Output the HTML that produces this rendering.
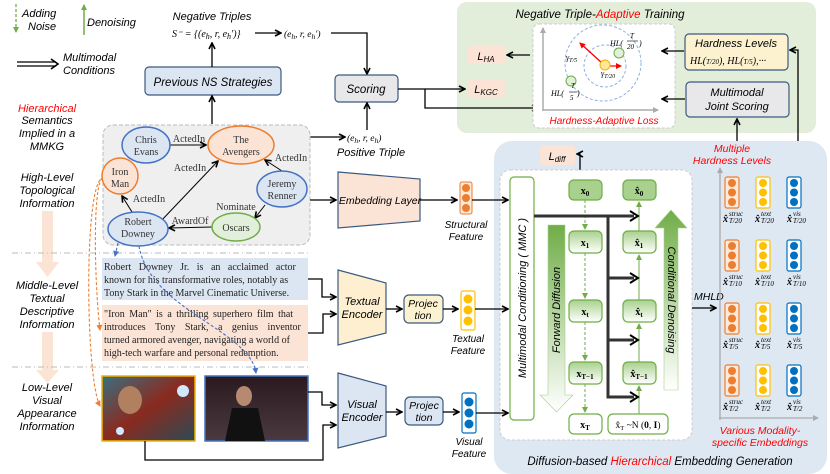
<!DOCTYPE html>
<html><head><meta charset="utf-8"><style>
body{margin:0;background:#fff}
svg{display:block}
.h{font-family:"Liberation Sans",sans-serif;font-style:italic}
.s{font-family:"Liberation Serif",serif}
</style></head><body>
<svg width="830" height="474" viewBox="0 0 830 474" xmlns="http://www.w3.org/2000/svg">
<defs>
<marker id="a" markerWidth="8" markerHeight="8" refX="7" refY="4" orient="auto" markerUnits="userSpaceOnUse"><path d="M1,1 L7,4 L1,7" fill="none" stroke="#000" stroke-width="1.6"/></marker>
<marker id="ab" markerWidth="8" markerHeight="8" refX="6" refY="4" orient="auto" markerUnits="userSpaceOnUse"><path d="M1,1 L7,4 L1,7 z" fill="#4472c4"/></marker>
<marker id="ao" markerWidth="8" markerHeight="8" refX="6" refY="4" orient="auto" markerUnits="userSpaceOnUse"><path d="M1,1 L7,4 L1,7 z" fill="#ed7d31"/></marker>
<marker id="ag" markerWidth="8" markerHeight="8" refX="6" refY="4" orient="auto" markerUnits="userSpaceOnUse"><path d="M1,1 L7,4 L1,7 z" fill="#70ad47"/></marker>
<marker id="ar" markerWidth="8" markerHeight="8" refX="6" refY="4" orient="auto" markerUnits="userSpaceOnUse"><path d="M1,1 L7,4 L1,7 z" fill="#f00"/></marker>
<marker id="ax" markerWidth="8" markerHeight="8" refX="6" refY="4" orient="auto" markerUnits="userSpaceOnUse"><path d="M1,1 L7,4 L1,7 z" fill="#aaa"/></marker>
<linearGradient id="gd" x1="0" y1="0" x2="0" y2="1"><stop offset="0" stop-color="#70ad47"/><stop offset="1" stop-color="#fff"/></linearGradient>
<linearGradient id="gu" x1="0" y1="1" x2="0" y2="0"><stop offset="0" stop-color="#fff"/><stop offset="1" stop-color="#70ad47"/></linearGradient>
<linearGradient id="gb" x1="0" y1="0" x2="0" y2="1"><stop offset="0" stop-color="#a9d18e"/><stop offset="1" stop-color="#fff"/></linearGradient>
<linearGradient id="im1" x1="0" y1="0" x2="1" y2="1"><stop offset="0" stop-color="#3a6f80"/><stop offset=".5" stop-color="#8a2a1e"/><stop offset="1" stop-color="#2b4a55"/></linearGradient>
<linearGradient id="im2" x1="0" y1="0" x2="0" y2="1"><stop offset="0" stop-color="#2a1a20"/><stop offset="1" stop-color="#4a3a40"/></linearGradient>
</defs>

<!-- legend -->
<line x1="16" y1="4" x2="16" y2="32" stroke="#70ad47" stroke-width="1.3" stroke-dasharray="3,2" marker-end="url(#ag)"/>
<text x="22" y="17" class="h" font-size="11">Adding</text><text x="28" y="30" class="h" font-size="11">Noise</text>
<line x1="84" y1="35" x2="84" y2="5" stroke="#70ad47" stroke-width="1.5" marker-end="url(#ag)"/>
<text x="87" y="26" class="h" font-size="11">Denoising</text>
<line x1="17" y1="62" x2="56" y2="62" stroke="#000" stroke-width="1.3"/><line x1="17" y1="66" x2="56" y2="66" stroke="#000" stroke-width="1.3"/>
<path d="M51,59 L58,64 L51,69" fill="none" stroke="#000" stroke-width="1.6"/>
<text x="63" y="61" class="h" font-size="11">Multimodal</text><text x="63" y="74" class="h" font-size="11">Conditions</text>

<g class="h" font-size="11" text-anchor="middle">
<text x="47" y="112" fill="#f00">Hierarchical</text>
<text x="47" y="124">Semantics</text><text x="47" y="137">Implied in a</text><text x="47" y="150">MMKG</text>
<text x="47" y="181">High-Level</text><text x="47" y="194">Topological</text><text x="47" y="207">Information</text>
<text x="47" y="289">Middle-Level</text><text x="47" y="302">Textual</text><text x="47" y="315">Descriptive</text><text x="47" y="328">Information</text>
<text x="47" y="391">Low-Level</text><text x="47" y="404">Visual</text><text x="47" y="417">Appearance</text><text x="47" y="430">Information</text>
</g>
<path d="M42,211 H53 V262 H59 L47.5,277 L36,262 H42 Z" fill="#fbe3d6"/>
<path d="M42,332 H53 V370 H59 L47.5,383 L36,370 H42 Z" fill="#fbe3d6"/>
<line x1="12" y1="253" x2="308" y2="253" stroke="#bbb" stroke-dasharray="6,3,1,3"/>
<line x1="12" y1="367" x2="308" y2="367" stroke="#bbb" stroke-dasharray="6,3,1,3"/>

<!-- top triples -->
<text x="212" y="20" class="h" font-size="11" text-anchor="middle">Negative Triples</text>
<text x="172" y="37" class="s" font-size="10" font-style="italic">S⁻ = {(e<tspan font-size="8" dy="2">h</tspan><tspan dy="-2">, r, e</tspan><tspan font-size="8" dy="2">h</tspan><tspan dy="-2">′)}</tspan></text>
<line x1="255" y1="33" x2="281" y2="33" stroke="#000" stroke-width="1.3" marker-end="url(#a)"/>
<text x="284" y="37" class="s" font-size="9.5" font-style="italic">(e<tspan font-size="7.5" dy="2">h</tspan><tspan dy="-2">, r, e</tspan><tspan font-size="7.5" dy="2">h</tspan><tspan dy="-2">′)</tspan></text>
<path d="M331,33 H367 V74" fill="none" stroke="#000" stroke-width="1.3" marker-end="url(#a)"/>
<rect x="145" y="67" width="136" height="28" rx="4" fill="#dce6f2" stroke="#3b5a80" stroke-width="1.2"/>
<text x="213" y="86" class="h" font-size="11.5" text-anchor="middle">Previous NS Strategies</text>
<line x1="212" y1="67" x2="212" y2="43" stroke="#000" stroke-width="1.3" marker-end="url(#a)"/>
<line x1="212" y1="124" x2="212" y2="96" stroke="#000" stroke-width="1.3" marker-end="url(#a)"/>
<rect x="335" y="75" width="63" height="27" rx="4" fill="#e8e8ea" stroke="#3b5a80" stroke-width="1.2"/>
<text x="366" y="93" class="h" font-size="11.5" text-anchor="middle">Scoring</text>
<line x1="367" y1="130" x2="367" y2="103" stroke="#000" stroke-width="1.3" marker-end="url(#a)"/>
<line x1="310" y1="137" x2="345" y2="137" stroke="#000" stroke-width="1.3" marker-end="url(#a)"/>
<text x="347" y="141" class="s" font-size="9.5" font-style="italic">(e<tspan font-size="7.5" dy="2">h</tspan><tspan dy="-2">, r, e</tspan><tspan font-size="7.5" dy="2">h</tspan><tspan dy="-2">)</tspan></text>
<text x="371" y="156" class="h" font-size="11" text-anchor="middle">Positive Triple</text>

<!-- green region -->
<rect x="457" y="2" width="359" height="131" rx="10" fill="#e2eed9"/>
<text x="600" y="18" class="h" font-size="11.5" text-anchor="middle">Negative Triple-<tspan fill="#f00">Adaptive</tspan> Training</text>
<path d="M398,89 H465" fill="none" stroke="#000" stroke-width="1.3" marker-end="url(#a)"/>
<path d="M425,89 V108 H538" fill="none" stroke="#000" stroke-width="1.3" marker-end="url(#a)"/>
<rect x="468" y="46" width="37" height="18" rx="2" fill="#fbe3d6"/>
<text x="486" y="60" class="h" font-size="11" text-anchor="middle">L<tspan font-size="8" dy="2">HA</tspan></text>
<rect x="468" y="79" width="37" height="18" rx="2" fill="#fbe3d6"/>
<text x="486" y="93" class="h" font-size="11" text-anchor="middle">L<tspan font-size="8" dy="2">KGC</tspan></text>
<line x1="530" y1="55" x2="507" y2="55" stroke="#000" stroke-width="1.3" marker-end="url(#a)"/>
<rect x="533" y="24" width="142" height="104" rx="6" fill="#fff" stroke="#ccc" stroke-dasharray="3,2"/>
<line x1="543" y1="111" x2="543" y2="28" stroke="#aaa" stroke-width="1.5" marker-end="url(#ax)"/>
<line x1="543" y1="110" x2="658" y2="110" stroke="#aaa" stroke-width="1.5" marker-end="url(#ax)"/>
<circle cx="603" cy="63" r="38" fill="none" stroke="#8fb0e0" stroke-dasharray="3,2"/>
<circle cx="605" cy="66" r="21" fill="none" stroke="#8fb0e0" stroke-dasharray="3,2"/>
<line x1="602" y1="63" x2="580" y2="43" stroke="#f00" stroke-width="1.3" marker-end="url(#ar)"/>
<line x1="604" y1="66" x2="621" y2="66" stroke="#f00" stroke-width="1.3" marker-end="url(#ar)"/>
<circle cx="605" cy="65" r="5" fill="#ffe699" stroke="#f0b400"/>
<circle cx="619" cy="53" r="5" fill="#e2efda" stroke="#70ad47"/>
<circle cx="571" cy="81" r="5" fill="#e2efda" stroke="#70ad47"/>
<g class="s" font-size="8" font-style="italic">
<text x="610" y="46">HL(</text><text x="630" y="38" font-size="7">T</text><line x1="627" y1="41" x2="638" y2="41" stroke="#000" stroke-width=".6"/><text x="627" y="49" font-size="7">20</text><text x="639" y="46">)</text>
<text x="566" y="60">γ<tspan font-size="6" dy="2">T/5</tspan></text>
<text x="601" y="76">γ<tspan font-size="6" dy="2">T/20</tspan></text>
<text x="551" y="96">HL(</text><text x="571" y="88" font-size="7">T</text><line x1="569" y1="92" x2="577" y2="92" stroke="#000" stroke-width=".6"/><text x="570" y="100" font-size="7">5</text><text x="577" y="96">)</text>
</g>
<text x="604" y="124" class="h" font-size="10" fill="#f00" text-anchor="middle">Hardness-Adaptive Loss</text>
<rect x="685" y="34" width="103" height="36" rx="4" fill="#fdf2d0" stroke="#3b5a80" stroke-width="1.2"/>
<text x="736" y="47" class="h" font-size="11" text-anchor="middle">Hardness Levels</text>
<text x="690" y="64" class="s" font-size="10" font-style="italic">HL(<tspan font-size="7">T/20</tspan>), HL(<tspan font-size="7">T/5</tspan>),···</text>
<rect x="686" y="82" width="103" height="35" rx="4" fill="#e8e8ea" stroke="#3b5a80" stroke-width="1.2"/>
<text x="737" y="96" class="h" font-size="11" text-anchor="middle">Multimodal</text>
<text x="737" y="110" class="h" font-size="11" text-anchor="middle">Joint Scoring</text>
<line x1="684" y1="51" x2="662" y2="51" stroke="#000" stroke-width="1.3" marker-end="url(#a)"/>
<line x1="685" y1="99" x2="662" y2="99" stroke="#000" stroke-width="1.3" marker-end="url(#a)"/>

<!-- blue region -->
<rect x="494" y="141" width="333" height="333" rx="18" fill="#dee8f3"/>
<line x1="737" y1="141" x2="737" y2="119" stroke="#000" stroke-width="1.3" marker-end="url(#a)"/>
<path d="M798,141 V50 H790" fill="none" stroke="#000" stroke-width="1.3" marker-end="url(#a)"/>
<rect x="540" y="145" width="35" height="20" rx="2" fill="#fbe3d6"/>
<text x="557" y="160" class="h" font-size="11" text-anchor="middle">L<tspan font-size="8" dy="2">diff</tspan></text>
<path d="M580,170 V154 H577" fill="none" stroke="#000" stroke-width="1.3" marker-end="url(#a)"/>
<text x="732" y="152" class="h" font-size="10.5" fill="#f00" text-anchor="middle">Multiple</text>
<text x="732" y="164" class="h" font-size="10.5" fill="#f00" text-anchor="middle">Hardness Levels</text>
<rect x="500" y="170" width="192" height="270" rx="10" fill="#fff" stroke="#ccc" stroke-dasharray="3,2"/>
<rect x="510" y="177" width="24" height="243" rx="4" fill="#fff" stroke="#70ad47" stroke-width="1.2"/>
<text transform="translate(526,298) rotate(-90)" class="h" font-size="11" text-anchor="middle">Multimodal Conditioning ( MMC )</text>
<path d="M548,225 H565 V395 H573 L556.5,412 L540,395 H548 Z" fill="url(#gd)" stroke="#a9d18e" stroke-width=".6"/>
<text transform="translate(560,310) rotate(-90)" class="h" font-size="11" text-anchor="middle">Forward Diffusion</text>
<path d="M664,390 H678 V228 H687 L671,210 L655,228 H664 Z" fill="url(#gu)" stroke="#a9d18e" stroke-width=".6"/>
<text transform="translate(668,300) rotate(90)" class="h" font-size="11" text-anchor="middle">Conditional Denoising</text>
<g stroke="#70ad47" stroke-width="1.2">
<rect x="569" y="180" width="33" height="20" rx="5" fill="#a9d18e"/>
<rect x="623" y="180" width="33" height="20" rx="5" fill="#a9d18e"/>
<rect x="569" y="231" width="33" height="22" rx="5" fill="url(#gb)"/>
<rect x="623" y="231" width="33" height="22" rx="5" fill="url(#gb)"/>
<rect x="569" y="300" width="33" height="22" rx="5" fill="url(#gb)"/>
<rect x="623" y="300" width="33" height="22" rx="5" fill="url(#gb)"/>
<rect x="569" y="362" width="33" height="22" rx="5" fill="url(#gb)"/>
<rect x="623" y="362" width="33" height="22" rx="5" fill="url(#gb)"/>
<rect x="569" y="414" width="33" height="20" rx="5" fill="#fff"/>
<rect x="608" y="414" width="60" height="20" rx="5" fill="#fff"/>
</g>
<g class="s" font-size="10" font-weight="bold" text-anchor="middle">
<text x="585" y="194">x<tspan font-size="7" dy="2">0</tspan></text><text x="639" y="194">x̂<tspan font-size="7" dy="2">0</tspan></text>
<text x="585" y="246">x<tspan font-size="7" dy="2">1</tspan></text><text x="639" y="246">x̂<tspan font-size="7" dy="2">1</tspan></text>
<text x="585" y="315">x<tspan font-size="7" dy="2">t</tspan></text><text x="639" y="315">x̂<tspan font-size="7" dy="2">t</tspan></text>
<text x="585" y="377">x<tspan font-size="7" dy="2">T−1</tspan></text><text x="639" y="377">x̂<tspan font-size="7" dy="2">T−1</tspan></text>
<text x="585" y="428">x<tspan font-size="7" dy="2">T</tspan></text>
<text x="638" y="428" font-weight="normal" font-size="9.5">x̂<tspan font-size="6.5" dy="2">T</tspan><tspan dy="-2"> ~N (</tspan><tspan font-weight="bold">0</tspan>, <tspan font-weight="bold">I</tspan>)</text>
</g>
<g stroke="#70ad47" stroke-width="1" fill="none">
<line x1="585" y1="200" x2="585" y2="229" stroke-dasharray="3,2" marker-end="url(#ag)"/>
<line x1="585" y1="253" x2="585" y2="298" stroke-dasharray="3,2" marker-end="url(#ag)"/>
<line x1="585" y1="322" x2="585" y2="360" stroke-dasharray="3,2" marker-end="url(#ag)"/>
<line x1="585" y1="384" x2="585" y2="412" stroke-dasharray="3,2" marker-end="url(#ag)"/>
<line x1="639" y1="414" x2="639" y2="386" marker-end="url(#ag)"/>
<line x1="639" y1="362" x2="639" y2="324" marker-end="url(#ag)"/>
<line x1="639" y1="300" x2="639" y2="255" marker-end="url(#ag)"/>
<line x1="639" y1="231" x2="639" y2="202" marker-end="url(#ag)"/>
</g>
<g stroke="#333" stroke-width="3" fill="none">
<path d="M534,216 H634"/><path d="M608,216 V397 H634"/><path d="M608,278 H634"/><path d="M608,340 H634"/>
</g>
<g fill="none" stroke="#000" stroke-width="2"><path d="M630,211 L638,216 L630,221"/><path d="M630,273 L638,278 L630,283"/><path d="M630,335 L638,340 L630,345"/><path d="M630,392 L638,397 L630,402"/></g>
<text x="694" y="300" class="h" font-size="10.5">MHLD</text>
<line x1="692" y1="308" x2="716" y2="308" stroke="#000" stroke-width="1.3" marker-end="url(#a)"/>
<line x1="720" y1="420" x2="720" y2="168" stroke="#aaa" stroke-width="1.3" marker-end="url(#ax)"/>
<line x1="719" y1="418" x2="818" y2="418" stroke="#aaa" stroke-width="1.3" marker-end="url(#ax)"/>
<g id="vecs">
<g stroke-width="1.2">
<rect x="725" y="177" width="14" height="31" rx="2" fill="#fde9d9" stroke="#ed7d31"/><rect x="756" y="177" width="14" height="31" rx="2" fill="#fff" stroke="#ffc000"/><rect x="787" y="177" width="14" height="31" rx="2" fill="#fff" stroke="#0070c0"/>
</g>
<g><circle cx="732" cy="183" r="4" fill="#ed7d31"/><circle cx="732" cy="192.5" r="4" fill="#ed7d31"/><circle cx="732" cy="202" r="4" fill="#ed7d31"/>
<circle cx="763" cy="183" r="4" fill="#ffc000"/><circle cx="763" cy="192.5" r="4" fill="#ffc000"/><circle cx="763" cy="202" r="4" fill="#ffc000"/>
<circle cx="794" cy="183" r="4" fill="#0070c0"/><circle cx="794" cy="192.5" r="4" fill="#0070c0"/><circle cx="794" cy="202" r="4" fill="#0070c0"/></g>
</g>
<use href="#vecs" y="63"/><use href="#vecs" y="126"/><use href="#vecs" y="188"/>
<g class="s" font-style="italic">
<g font-size="10" font-weight="bold">
<text x="723" y="222">x̂</text><text x="755" y="222">x̂</text><text x="787" y="222">x̂</text>
<text x="723" y="285">x̂</text><text x="755" y="285">x̂</text><text x="787" y="285">x̂</text>
<text x="723" y="348">x̂</text><text x="755" y="348">x̂</text><text x="787" y="348">x̂</text>
<text x="723" y="410">x̂</text><text x="755" y="410">x̂</text><text x="787" y="410">x̂</text>
</g>
<g font-size="7">
<text x="729" y="216">struc</text><text x="761" y="216">text</text><text x="793" y="216">vis</text>
<text x="729" y="223">T/20</text><text x="761" y="223">T/20</text><text x="793" y="223">T/20</text>
<text x="729" y="279">struc</text><text x="761" y="279">text</text><text x="793" y="279">vis</text>
<text x="729" y="286">T/10</text><text x="761" y="286">T/10</text><text x="793" y="286">T/10</text>
<text x="729" y="342">struc</text><text x="761" y="342">text</text><text x="793" y="342">vis</text>
<text x="729" y="349">T/5</text><text x="761" y="349">T/5</text><text x="793" y="349">T/5</text>
<text x="729" y="404">struc</text><text x="761" y="404">text</text><text x="793" y="404">vis</text>
<text x="729" y="411">T/2</text><text x="761" y="411">T/2</text><text x="793" y="411">T/2</text>
</g>
</g>
<text x="760" y="434" class="h" font-size="10.5" fill="#f00" text-anchor="middle">Various Modality-</text>
<text x="760" y="446" class="h" font-size="10.5" fill="#f00" text-anchor="middle">specific Embeddings</text>
<text x="660" y="465" class="h" font-size="11.5" text-anchor="middle">Diffusion-based <tspan fill="#f00">Hierarchical</tspan> Embedding Generation</text>

<!-- KG -->
<rect x="103" y="125" width="207" height="120" rx="10" fill="#efefef" stroke="#bbb" stroke-dasharray="4,2"/>
<g stroke="#000" stroke-width="1" fill="none">
<line x1="170" y1="145" x2="206" y2="145" marker-end="url(#a)"/>
<line x1="160" y1="222" x2="218" y2="161" marker-end="url(#a)"/>
<line x1="282" y1="171" x2="265" y2="160" marker-end="url(#a)"/>
<line x1="265" y1="205" x2="255" y2="218" marker-end="url(#a)"/>
<line x1="212" y1="227" x2="169" y2="228" marker-end="url(#a)"/>
<line x1="132" y1="212" x2="122" y2="196" marker-end="url(#a)"/>
</g>
<g stroke-width="1.5">
<ellipse cx="146" cy="145" rx="24" ry="18" fill="#dce6f2" stroke="#4472c4"/>
<ellipse cx="241" cy="145" rx="33" ry="19" fill="#fbe3d6" stroke="#ed7d31"/>
<ellipse cx="120" cy="176" rx="18" ry="18" fill="#fbe3d6" stroke="#ed7d31"/>
<ellipse cx="282" cy="189" rx="25" ry="18" fill="#dce6f2" stroke="#4472c4"/>
<ellipse cx="138" cy="229" rx="30" ry="17" fill="#dce6f2" stroke="#4472c4"/>
<ellipse cx="236" cy="227" rx="24" ry="14" fill="#e2efda" stroke="#70ad47"/>
</g>
<g class="s" font-size="10" text-anchor="middle" fill="#333">
<text x="146" y="143">Chris</text><text x="146" y="155">Evans</text>
<text x="241" y="143">The</text><text x="241" y="155">Avengers</text>
<text x="120" y="175">Iron</text><text x="120" y="187">Man</text>
<text x="282" y="187">Jeremy</text><text x="282" y="199">Renner</text>
<text x="138" y="225">Robert</text><text x="138" y="237">Downey</text>
<text x="236" y="231">Oscars</text>
<text x="189" y="142">ActedIn</text><text x="190" y="171">ActedIn</text><text x="291" y="161">ActedIn</text>
<text x="149" y="202">ActedIn</text><text x="236" y="210">Nominate</text><text x="190" y="224">AwardOf</text>
</g>
<line x1="310" y1="200" x2="336" y2="200" stroke="#000" stroke-width="1.3" marker-end="url(#a)"/>
<path d="M338,172 L420,179 L420,221 L338,228 Z" fill="#fbe3d6" stroke="#3b5a80" stroke-width="1.2"/>
<text x="380" y="204" class="h" font-size="10.5" text-anchor="middle">Embedding Layer</text>
<line x1="420" y1="200" x2="457" y2="200" stroke="#000" stroke-width="1.3" marker-end="url(#a)"/>
<rect x="460" y="182" width="12" height="32" rx="2" fill="#fde9d9" stroke="#ed7d31"/>
<circle cx="466" cy="188" r="4" fill="#ed7d31"/><circle cx="466" cy="198" r="4" fill="#ed7d31"/><circle cx="466" cy="208" r="4" fill="#ed7d31"/>
<text x="466" y="228" class="h" font-size="10" text-anchor="middle">Structural</text><text x="466" y="240" class="h" font-size="10" text-anchor="middle">Feature</text>
<line x1="472" y1="200" x2="508" y2="200" stroke="#000" stroke-width="1.3" marker-end="url(#a)"/>

<!-- textual -->
<rect x="102" y="258" width="206" height="42" fill="#dce6f2"/>
<rect x="102" y="305" width="206" height="56" fill="#fbe3d6"/>
<g class="s" font-size="10" fill="#222">
<text x="104" y="270" word-spacing="5">Robert Downey Jr. is an acclaimed actor</text>
<text x="104" y="283">known for his transformative roles, notably as</text>
<text x="104" y="296">Tony Stark in the Marvel Cinematic Universe.</text>
<text x="104" y="317" word-spacing="2">"Iron Man" is a thrilling superhero film that</text>
<text x="104" y="330" word-spacing="7">introduces Tony Stark, a genius inventor</text>
<text x="104" y="343">turned armored avenger, navigating a world of</text>
<text x="104" y="356">high-tech warfare and personal redemption.</text>
</g>
<path d="M308,279 H322 V297 H336" fill="none" stroke="#000" stroke-width="1.3" marker-end="url(#a)"/>
<path d="M308,333 H323 V314 H336" fill="none" stroke="#000" stroke-width="1.3" marker-end="url(#a)"/>
<path d="M338,270 L386,283 L386,333 L338,345 Z" fill="#fdefcf" stroke="#3b5a80" stroke-width="1.2"/>
<text x="362" y="305" class="h" font-size="11" text-anchor="middle">Textual</text><text x="362" y="318" class="h" font-size="11" text-anchor="middle">Encoder</text>
<line x1="386" y1="309" x2="402" y2="309" stroke="#000" stroke-width="1.3" marker-end="url(#a)"/>
<rect x="404" y="295" width="39" height="28" rx="5" fill="#fdf2d0" stroke="#3b5a80" stroke-width="1.2"/>
<text x="423" y="307" class="h" font-size="10.5" text-anchor="middle">Projec</text><text x="423" y="319" class="h" font-size="10.5" text-anchor="middle">tion</text>
<line x1="443" y1="309" x2="458" y2="309" stroke="#000" stroke-width="1.3" marker-end="url(#a)"/>
<rect x="461" y="291" width="14" height="39" rx="2" fill="#fff" stroke="#ffc000" stroke-width="1.2"/>
<circle cx="468" cy="299" r="4.5" fill="#ffc000"/><circle cx="468" cy="310" r="4.5" fill="#ffc000"/><circle cx="468" cy="321" r="4.5" fill="#ffc000"/>
<text x="468" y="342" class="h" font-size="10" text-anchor="middle">Textual</text><text x="468" y="354" class="h" font-size="10" text-anchor="middle">Feature</text>
<line x1="475" y1="309" x2="508" y2="309" stroke="#000" stroke-width="1.3" marker-end="url(#a)"/>

<!-- visual -->
<rect x="102" y="376" width="93" height="65" fill="url(#im1)" stroke="#f0b400" stroke-width="1.5"/>
<circle cx="183" cy="391" r="6" fill="#cfe8ff"/><circle cx="120" cy="431" r="4" fill="#cfe8ff"/>
<ellipse cx="130" cy="400" rx="12" ry="14" fill="#b08060"/>
<rect x="205" y="376" width="103" height="65" fill="url(#im2)" stroke="#4472c4" stroke-width="1.5"/>
<ellipse cx="244" cy="396" rx="8" ry="10" fill="#b58a70"/><path d="M225,441 L232,408 H258 L265,441 Z" fill="#111"/>
<path d="M308,392 H322 V405 H336" fill="none" stroke="#000" stroke-width="1.3" marker-end="url(#a)"/>
<path d="M145,441 V460 H323 V425 H336" fill="none" stroke="#000" stroke-width="1.3" marker-end="url(#a)"/>
<path d="M338,373 L386,386 L386,436 L338,448 Z" fill="#dce6f2" stroke="#3b5a80" stroke-width="1.2"/>
<text x="362" y="408" class="h" font-size="11" text-anchor="middle">Visual</text><text x="362" y="421" class="h" font-size="11" text-anchor="middle">Encoder</text>
<line x1="386" y1="412" x2="402" y2="412" stroke="#000" stroke-width="1.3" marker-end="url(#a)"/>
<rect x="405" y="397" width="38" height="28" rx="5" fill="#dce6f2" stroke="#3b5a80" stroke-width="1.2"/>
<text x="424" y="409" class="h" font-size="10.5" text-anchor="middle">Projec</text><text x="424" y="421" class="h" font-size="10.5" text-anchor="middle">tion</text>
<line x1="443" y1="412" x2="459" y2="412" stroke="#000" stroke-width="1.3" marker-end="url(#a)"/>
<rect x="462" y="393" width="14" height="40" rx="2" fill="#fff" stroke="#0070c0" stroke-width="1.2"/>
<circle cx="469" cy="402" r="4.5" fill="#0070c0"/><circle cx="469" cy="413" r="4.5" fill="#0070c0"/><circle cx="469" cy="424" r="4.5" fill="#0070c0"/>
<text x="469" y="445" class="h" font-size="10" text-anchor="middle">Visual</text><text x="469" y="457" class="h" font-size="10" text-anchor="middle">Feature</text>
<line x1="476" y1="413" x2="508" y2="413" stroke="#000" stroke-width="1.3" marker-end="url(#a)"/>

<g fill="none" stroke-width="1.1" stroke-dasharray="3,2">
<path d="M102,178 C92,190 95,290 100,330" stroke="#ed7d31" marker-end="url(#ao)"/>
<path d="M100,180 C84,200 86,380 100,406" stroke="#ed7d31" marker-end="url(#ao)"/>
<path d="M118,243 L115,256" stroke="#4472c4" marker-end="url(#ab)"/>
<path d="M139,246 C150,310 250,330 256,373" stroke="#4472c4" marker-end="url(#ab)"/>
</g>
</svg>
</body></html>
